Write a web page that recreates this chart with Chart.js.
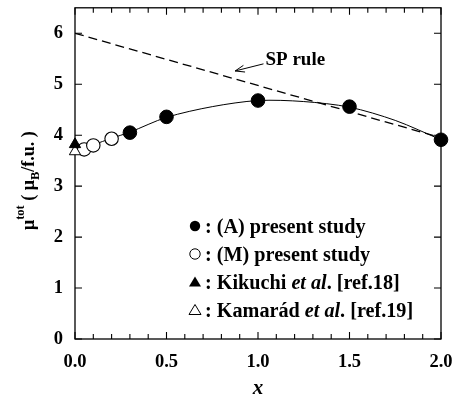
<!DOCTYPE html>
<html>
<head>
<meta charset="utf-8">
<script src="https://cdn.jsdelivr.net/npm/chart.js@4.4.1/dist/chart.umd.min.js"></script>
<style>
  html, body { margin: 0; padding: 0; background: #fff; }
  #wrap { width: 453px; height: 403px; }
</style>
</head>
<body>
<div id="wrap"><canvas id="chart" width="453" height="403"></canvas></div>
<script>
// (A) present study - filled circles
const xA = [0.3, 0.5, 1.0, 1.5, 2.0];
const yA = [4.05, 4.36, 4.68, 4.56, 3.91];
// (M) present study - open circles
const xM = [0.05, 0.1, 0.2];
const yM = [3.72, 3.80, 3.93];
// Kikuchi et al. / Kamarád et al.
const xKik = [0.0];
const yKik = [3.82];
const xKam = [0.0];
const yKam = [3.68];
// fitted curve
const xFit = [0.0, 0.05, 0.1, 0.2, 0.3, 0.5, 0.75, 1.0, 1.25, 1.5, 1.75, 2.0];
const yFit = [3.68, 3.74, 3.81, 3.94, 4.06, 4.35, 4.56, 4.68, 4.66, 4.55, 4.29, 3.91];
// SP rule (dashed)
const xSP = [0.0, 2.0];
const ySP = [6.0, 3.95];

const FONT = '"Liberation Serif", "Times New Roman", serif';

function pts(xs, ys) {
  return xs.map((x, i) => ({ x: x, y: ys[i] }));
}

// рамка и внутренние засечки
const framePlugin = {
  id: "frame",
  beforeDatasetsDraw(chart) {
    const { ctx, chartArea: a, scales } = chart;
    const sx = scales.x, sy = scales.y;
    ctx.save();
    ctx.strokeStyle = "#000";
    ctx.lineWidth = 1.3;
    ctx.strokeRect(a.left, a.top, a.right - a.left, a.bottom - a.top);
    ctx.lineWidth = 1.1;
    ctx.beginPath();
    for (let i = 0; i <= 20; i++) {
      const px = sx.getPixelForValue(i / 10);
      const len = i % 5 === 0 ? 7 : 5;
      ctx.moveTo(px, a.bottom);
      ctx.lineTo(px, a.bottom - len);
      ctx.moveTo(px, a.top);
      ctx.lineTo(px, a.top + len);
    }
    for (let v = 0; v <= 6; v++) {
      const py = sy.getPixelForValue(v);
      ctx.moveTo(a.left, py);
      ctx.lineTo(a.left + 7, py);
      ctx.moveTo(a.right, py);
      ctx.lineTo(a.right - 7, py);
    }
    ctx.stroke();
    ctx.restore();
  },
  afterDraw(chart) {
    const { ctx, chartArea: a, scales } = chart;
    const sx = scales.x, sy = scales.y;
    ctx.save();
    ctx.fillStyle = "#000";
    ctx.strokeStyle = "#000";

    // x title
    ctx.font = "italic bold 21px " + FONT;
    ctx.textAlign = "center";
    ctx.textBaseline = "alphabetic";
    ctx.fillText("x", (a.left + a.right) / 2, 394);

    // y title (rotated)
    ctx.save();
    ctx.translate(34, 230);
    ctx.rotate(-Math.PI / 2);
    ctx.textAlign = "left";
    let cx = 0;
    const seg = (t, f, dy) => {
      ctx.font = f;
      ctx.fillText(t, cx, dy);
      cx += ctx.measureText(t).width;
    };
    const big = "bold 18px " + FONT;
    const small = "bold 12.5px " + FONT;
    seg("\u03bc", big, 0);
    seg("tot", small, -10);
    seg(" ( \u03bc", big, 0);
    seg("B", small, 5);
    seg("/f.u. )", big, 0);
    ctx.restore();

    // SP rule arrow
    const tx = sx.getPixelForValue(1.03), ty = sy.getPixelForValue(5.40);
    const hx = sx.getPixelForValue(0.875), hy = sy.getPixelForValue(5.26);
    ctx.lineWidth = 1;
    ctx.beginPath();
    ctx.moveTo(tx, ty);
    ctx.lineTo(hx, hy);
    const ang = Math.atan2(ty - hy, tx - hx);
    ctx.moveTo(hx + 10 * Math.cos(ang - 0.35), hy + 10 * Math.sin(ang - 0.35));
    ctx.lineTo(hx, hy);
    ctx.lineTo(hx + 10 * Math.cos(ang + 0.35), hy + 10 * Math.sin(ang + 0.35));
    ctx.stroke();
    ctx.font = "bold 19px " + FONT;
    ctx.textAlign = "left";
    ctx.textBaseline = "middle";
    ctx.fillText("SP rule", tx + 2, sy.getPixelForValue(5.47));

    // legend
    const rows = [
      { m: "fcircle", parts: [["(A) present study", ""]] },
      { m: "ocircle", parts: [["(M) present study", ""]] },
      { m: "ftri", parts: [["Kikuchi ", ""], ["et al", "italic "], [". [ref.18]", ""]] },
      { m: "otri", parts: [["Kamar\u00e1d ", ""], ["et al", "italic "], [". [ref.19]", ""]] }
    ];
    const rowY = [226, 254, 282, 310];
    const mx = 195;
    rows.forEach((r, i) => {
      const y = rowY[i];
      ctx.lineWidth = 1;
      ctx.beginPath();
      if (r.m.indexOf("circle") >= 0) {
        ctx.arc(mx, y, 5.2, 0, Math.PI * 2);
      } else {
        ctx.moveTo(mx, y - 5.5);
        ctx.lineTo(mx + 6, y + 4.5);
        ctx.lineTo(mx - 6, y + 4.5);
        ctx.closePath();
      }
      if (r.m[0] === "f") ctx.fill();
      else ctx.stroke();
      ctx.textBaseline = "alphabetic";
      let px = 205;
      ctx.font = "bold 20.2px " + FONT;
      ctx.fillText(": ", px, y + 6.5);
      px += ctx.measureText(": ").width;
      r.parts.forEach((p) => {
        ctx.font = p[1] + "bold 20.2px " + FONT;
        ctx.fillText(p[0], px, y + 6.5);
        px += ctx.measureText(p[0]).width;
      });
    });
    ctx.restore();
  }
};

const tickFont = { family: FONT, size: 18.5, weight: "bold" };

new Chart(document.getElementById("chart"), {
  type: "scatter",
  data: {
    datasets: [
      {
        label: "(A) present study",
        data: pts(xA, yA),
        pointRadius: 6.8,
        pointBackgroundColor: "#000",
        pointBorderColor: "#000",
        clip: false
      },
      {
        label: "Kikuchi",
        data: pts(xKik, yKik),
        pointStyle: "triangle",
        pointRadius: 6.5,
        pointBackgroundColor: "#000",
        pointBorderColor: "#000",
        clip: false
      },
      {
        label: "Kamarad",
        data: pts(xKam, yKam),
        pointStyle: "triangle",
        pointRadius: 6.5,
        pointBackgroundColor: "#fff",
        pointBorderColor: "#000",
        pointBorderWidth: 1,
        clip: false
      },
      {
        label: "(M) present study",
        data: pts(xM, yM),
        pointRadius: 6.7,
        pointBackgroundColor: "#fff",
        pointBorderColor: "#000",
        pointBorderWidth: 1.1,
        clip: false
      },
      {
        label: "fit",
        data: pts(xFit, yFit),
        showLine: true,
        pointRadius: 0,
        borderColor: "#000",
        borderWidth: 1,
        tension: 0.3
      },
      {
        label: "SP rule",
        data: pts(xSP, ySP),
        showLine: true,
        pointRadius: 0,
        borderColor: "#000",
        borderWidth: 1.3,
        borderDash: [9, 5]
      }
    ]
  },
  options: {
    responsive: false,
    devicePixelRatio: 1,
    animation: false,
    layout: { padding: { top: 4, right: 12, left: 0, bottom: 0 } },
    plugins: { legend: { display: false }, tooltip: { enabled: false } },
    scales: {
      x: {
        type: "linear",
        min: 0,
        max: 2,
        grid: { display: false, drawTicks: false },
        border: { display: false },
        ticks: {
          stepSize: 0.5,
          padding: 12,
          color: "#000",
          font: tickFont,
          callback: (v) => v.toFixed(1)
        },
        afterFit: (s) => {
          s.height = 64;
          s.paddingLeft = 0;
          s.paddingRight = 0;
        }
      },
      y: {
        type: "linear",
        min: 0,
        max: 6.5,
        grid: { display: false, drawTicks: false },
        border: { display: false },
        ticks: {
          stepSize: 1,
          padding: 12,
          color: "#000",
          font: tickFont
        },
        afterBuildTicks: (s) => {
          s.ticks = s.ticks.filter((t) => Number.isInteger(t.value));
        },
        afterFit: (s) => {
          s.width = 75;
          s.paddingTop = 0;
          s.paddingBottom = 0;
        }
      }
    }
  },
  plugins: [framePlugin]
});
</script>
</body>
</html>
